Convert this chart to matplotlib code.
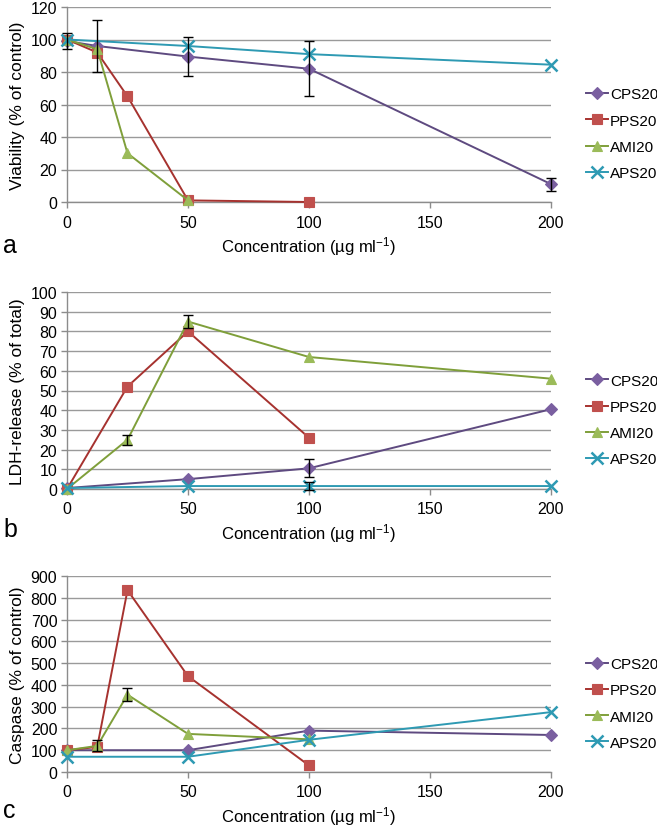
import numpy as np
import matplotlib
matplotlib.use("Agg")
from matplotlib import pyplot as plt

plt.rcParams["font.family"] = ["Liberation Sans", "DejaVu Sans"]
plt.rcParams["mathtext.default"] = "regular"

series_names = ["CPS20", "PPS20", "AMI20", "APS20"]
line_colors = ["#5E4A80", "#A6322F", "#7F9F3A", "#2E9AB3"]
face_colors = ["#7A5FA0", "#C0504D", "#9BBB59", "#4BACC6"]
markers = ["D", "s", "^", "x"]

# panel a: viability
via_x = {
    "CPS20": [0, 12.5, 50, 100, 200],
    "PPS20": [0, 12.5, 25, 50, 100],
    "AMI20": [0, 12.5, 25, 50],
    "APS20": [0, 50, 100, 200],
}
via_y = {
    "CPS20": [99, 96, 89.5, 82, 11],
    "PPS20": [100, 92, 65, 1, 0],
    "AMI20": [100, 94, 30, 1],
    "APS20": [100, 96, 91, 84.5],
}
via_err = {
    "CPS20": [5, 16, 12, 17, 4],
}

# panel b: LDH release
ldh_x = {
    "CPS20": [0, 50, 100, 200],
    "PPS20": [0, 25, 50, 100],
    "AMI20": [0, 25, 50, 100, 200],
    "APS20": [0, 50, 100, 200],
}
ldh_y = {
    "CPS20": [0.5, 5, 10.5, 40.5],
    "PPS20": [0, 52, 80, 26],
    "AMI20": [0, 25, 85, 67, 56],
    "APS20": [0.5, 1.5, 1.5, 1.5],
}
ldh_err = {
    "CPS20": [0, 0, 4.5, 0],
    "AMI20": [0, 2.5, 3.5, 0, 0],
    "APS20": [0, 0, 2, 0],
}

# panel c: caspase
cas_x = {
    "CPS20": [0, 50, 100, 200],
    "PPS20": [0, 12.5, 25, 50, 100],
    "AMI20": [0, 12.5, 25, 50, 100],
    "APS20": [0, 50, 100, 200],
}
cas_y = {
    "CPS20": [100, 100, 190, 170],
    "PPS20": [100, 115, 835, 440, 30],
    "AMI20": [100, 120, 355, 175, 150],
    "APS20": [70, 70, 148, 275],
}
cas_err = {
    "AMI20": [0, 25, 30, 0, 0],
}

W, H = 657, 828
fig = plt.figure(figsize=(W / 100, H / 100), dpi=100)


def px_axes(left, top, right, bottom):
    return fig.add_axes([left / W, 1 - bottom / H, (right - left) / W, (bottom - top) / H])


def draw_panel(ax, xs, ys, errs, ymax, ystep, ylabel, letter, label_y):
    for i, name in enumerate(series_names):
        x = np.array(xs[name])
        y = np.array(ys[name])
        ms = 8 if markers[i] == "x" else 6.5
        ax.plot(x, y, color=line_colors[i], lw=1.4, marker=markers[i], ms=ms,
                mfc=face_colors[i], mec=face_colors[i] if markers[i] != "x" else line_colors[i],
                mew=1.8 if markers[i] == "x" else 0.8, label=name, clip_on=False, zorder=3 + i)
        if name in errs:
            e = np.array(errs[name])
            keep = e > 0
            ax.errorbar(x[keep], y[keep], yerr=e[keep], fmt="none", ecolor="black",
                        elinewidth=1.0, capsize=3.5, capthick=1.0, clip_on=False, zorder=10)
    ax.set_xlim(0, 200)
    ax.set_ylim(0, ymax)
    ax.set_xticks([0, 50, 100, 150, 200])
    ax.set_yticks(np.arange(0, ymax + 1, ystep))
    ax.yaxis.grid(True, color="#9a9a9a", lw=1.0)
    ax.set_axisbelow(True)
    for s in ["top", "right"]:
        ax.spines[s].set_visible(False)
    for s in ["left", "bottom"]:
        ax.spines[s].set_color("#8c8c8c")
        ax.spines[s].set_linewidth(1.0)
    ax.tick_params(axis="both", colors="#8c8c8c", labelcolor="black", labelsize=11.5,
                   length=4, width=1.0, direction="out")
    ax.tick_params(axis="x", pad=5)
    ax.tick_params(axis="y", pad=3)
    ax.set_ylabel(ylabel, fontsize=12.5, labelpad=4)
    ax.set_xlabel("Concentration (µg ml$^{-1}$)", fontsize=12, labelpad=3)
    fig.text(3 / W, 1 - label_y / H, letter, fontsize=18, va="baseline", ha="left")
    ax.legend(loc="center left", bbox_to_anchor=(1.06, 0.35), frameon=False,
              fontsize=11, handlelength=1.4, handletextpad=0.15, labelspacing=0.8,
              borderaxespad=0)


ax_a = px_axes(67, 8, 551, 203)
draw_panel(ax_a, via_x, via_y, via_err, 120, 20, "Viability (% of control)", "a", 253)

ax_b = px_axes(67, 293, 551, 490)
draw_panel(ax_b, ldh_x, ldh_y, ldh_err, 100, 10, "LDH-release (% of total)", "b", 537)

ax_c = px_axes(67, 577, 551, 773)
draw_panel(ax_c, cas_x, cas_y, cas_err, 900, 100, "Caspase (% of control)", "c", 818)

fig.savefig("out.png", dpi=100)
